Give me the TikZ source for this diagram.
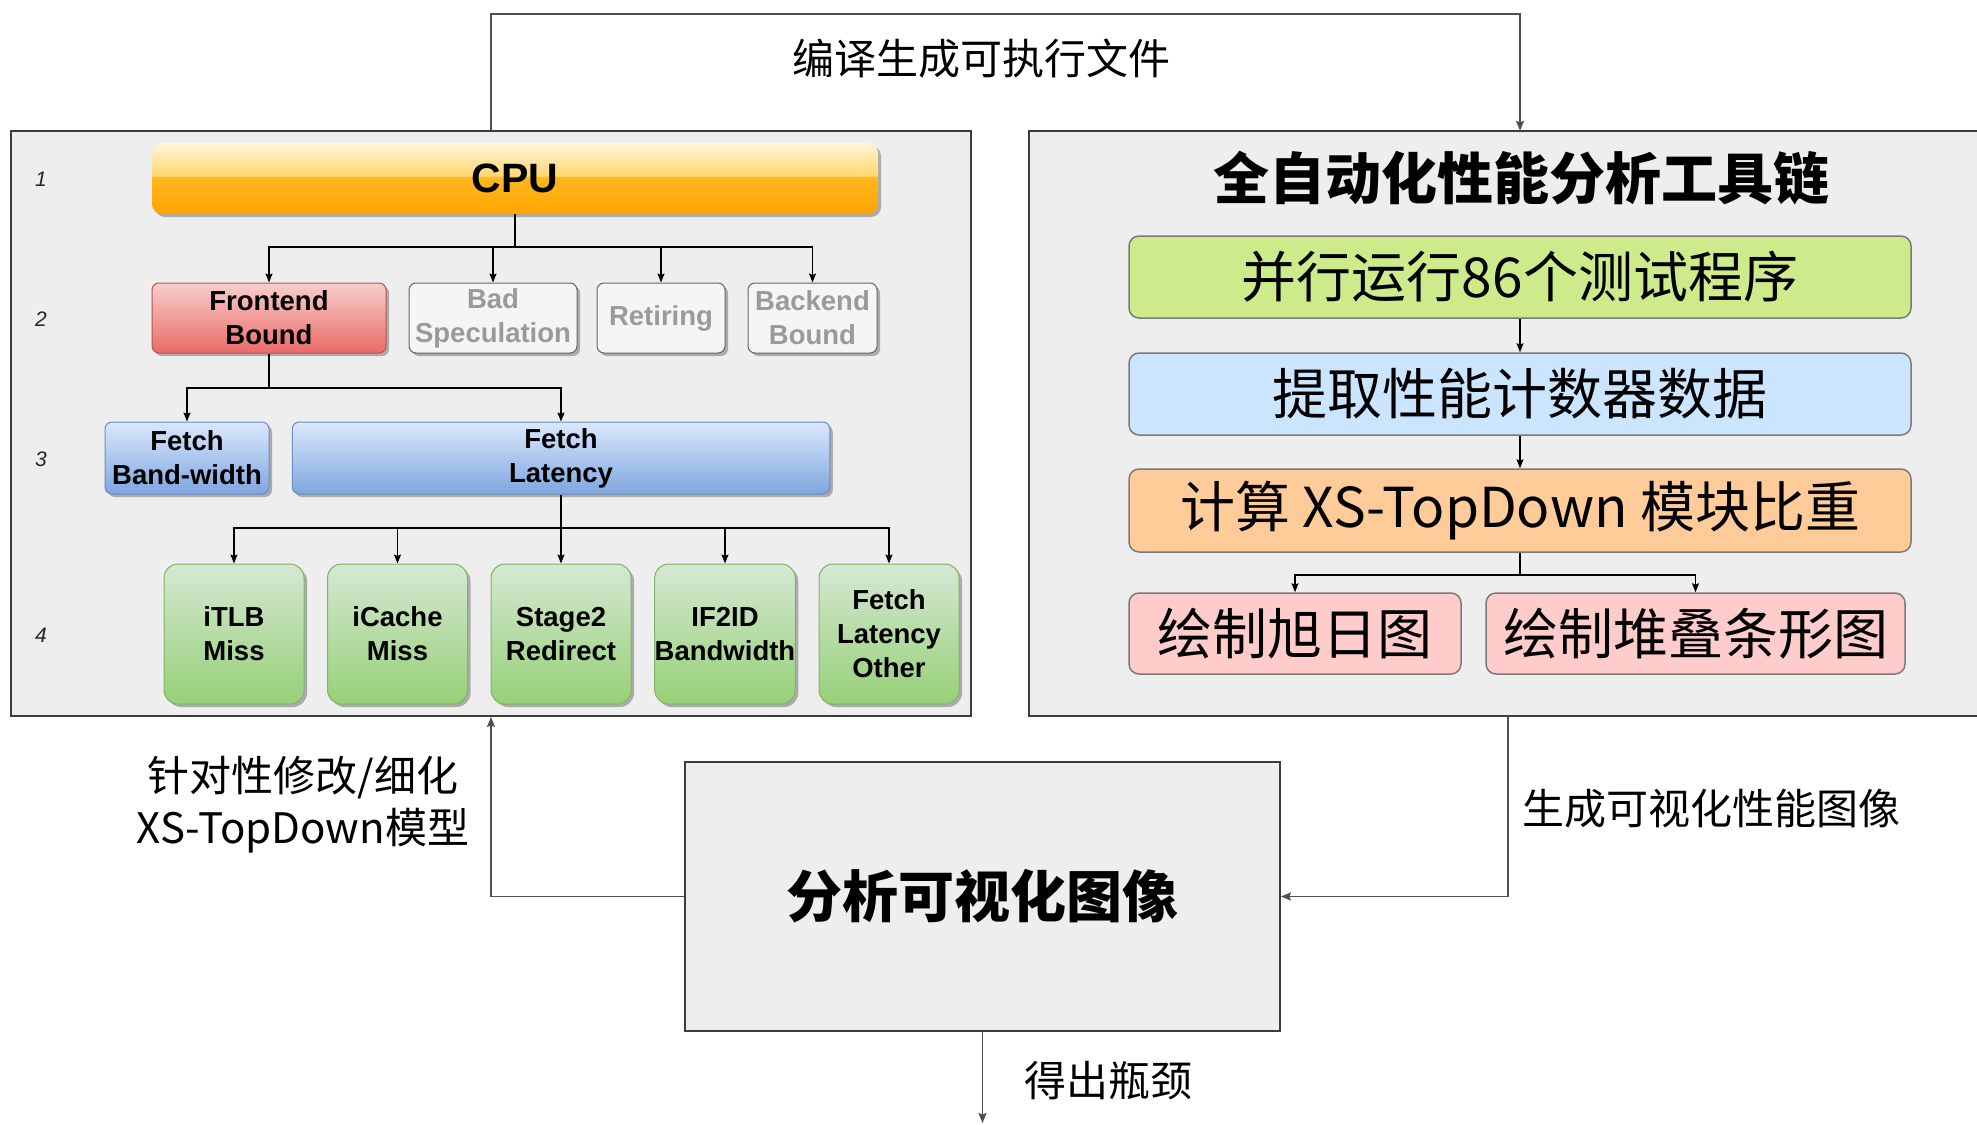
\documentclass[tikz,border=0pt]{standalone}
\usepackage{fontspec}
\setmainfont{Liberation Sans}
\newfontfamily\cjk{Noto Sans CJK SC}
\usetikzlibrary{arrows.meta,shadows,calc}

% colours
\definecolor{panelbg}{HTML}{EEEEEE}
\definecolor{panelline}{HTML}{3C3C3C}
\definecolor{flowline}{HTML}{505050}
\definecolor{redtop}{HTML}{F8CECC}
\definecolor{redbot}{HTML}{EA6B66}
\definecolor{redline}{HTML}{B85450}
\definecolor{bluetop}{HTML}{DAE8FC}
\definecolor{bluebot}{HTML}{7EA6E0}
\definecolor{blueline}{HTML}{6C8EBF}
\definecolor{greentop}{HTML}{D5E8D4}
\definecolor{greenbot}{HTML}{97D077}
\definecolor{greenline}{HTML}{82B366}
\definecolor{greyline}{HTML}{666666}
\definecolor{greytext}{HTML}{9A9A9A}
\definecolor{stepline}{HTML}{7A7A7A}
\definecolor{lime}{HTML}{CDEB8B}
\definecolor{skyblue}{HTML}{CCE5FF}
\definecolor{peach}{HTML}{FFCC99}
\definecolor{pink}{HTML}{FFCCCC}
\definecolor{cpuA}{HTML}{FFA500}
\definecolor{cpuB}{HTML}{FFB820}
\definecolor{cpuC}{HTML}{FFD870}
\definecolor{cpuD}{HTML}{FFF5DC}

% glossy orange fill of the CPU bar (bottom to top)
\pgfdeclareverticalshading{cpuglass}{100bp}{%
  color(0bp)=(cpuA); color(25bp)=(cpuA); color(51bp)=(cpuB);
  color(52bp)=(cpuC); color(75bp)=(cpuD); color(100bp)=(cpuD)}

\newcommand\treefont{\fontsize{27.5}{34}\selectfont\bfseries}
\newcommand\stepfont{\cjk\fontsize{55}{60}\selectfont}
\newcommand\notefont{\cjk\fontsize{42}{52}\selectfont}

\begin{document}
\begin{tikzpicture}[x=1pt, y=-1pt,
  panel/.style={fill=panelbg, draw=panelline, line width=1.8pt, inner sep=0pt},
  tree/.style={rounded corners=7pt, inner sep=0pt, align=center, font=\treefont,
    line width=1pt,
    drop shadow={shadow xshift=3pt, shadow yshift=-3pt, opacity=.28, fill=black}},
  redbox/.style={tree, top color=redtop, bottom color=redbot, draw=redline},
  greybox/.style={tree, fill=panelbg!60!white, draw=greyline, text=greytext},
  bluebox/.style={tree, top color=bluetop, bottom color=bluebot, draw=blueline},
  greenbox/.style={tree, rounded corners=14pt, top color=greentop, bottom color=greenbot,
    draw=greenline, minimum width=140pt, minimum height=140pt},
  stepbox/.style={rounded corners=10pt, draw=stepline, line width=1.5pt, inner sep=0pt,
    font=\stepfont},
  link/.style={line width=1.3pt, black},
  conn/.style={link, -{Stealth[length=9pt, width=7pt, inset=1.5pt]}},
  flow/.style={line width=1.6pt, flowline, -{Stealth[length=10pt, width=8pt, inset=1.5pt]}},
  note/.style={font=\notefont, align=center, inner sep=0pt},
  rownum/.style={font=\itshape\fontsize{21}{21}\selectfont, text=black!85}
]
\useasboundingbox (0,0) rectangle (1977,1124);
\clip (0,0) rectangle (1977,1124);
\fill[white] (0,0) rectangle (1977,1124);

% ---------- left panel: XS-TopDown tree ----------
\node[panel, minimum width=960pt, minimum height=585pt] (lp) at (491,423.5) {};

\node[rownum] (r1) at (41,179) {1};
\node[rownum] (r2) at (41,319) {2};
\node[rownum] (r3) at (41,459) {3};
\node[rownum] (r4) at (41,635) {4};

\node[shading=cpuglass, rounded corners=10pt, inner sep=0pt,
      minimum width=726pt, minimum height=71pt,
      font=\fontsize{41}{41}\selectfont\bfseries,
      drop shadow={shadow xshift=3pt, shadow yshift=-3pt, opacity=.28, fill=black}]
      (cpu) at (515,178.5) {CPU};

\node[redbox,  minimum width=234pt, minimum height=70pt] (fb)  at (269,318)   {Frontend\\Bound};
\node[greybox, minimum width=168pt, minimum height=70pt] (bs)  at (493,318)   {Bad\\Speculation};
\node[greybox, minimum width=128pt, minimum height=70pt] (ret) at (661,318)   {Retiring};
\node[greybox, minimum width=129pt, minimum height=70pt] (be)  at (812.5,318) {Backend\\Bound};

\node[bluebox, minimum width=164pt,   minimum height=72pt] (fbw) at (187,458) {Fetch\\Band-width};
\node[bluebox, minimum width=537.5pt, minimum height=72pt] (fl)  at (561,458) {Fetch\\Latency};

\node[greenbox] (itlb)  at (234,634)   {iTLB\\Miss};
\node[greenbox] (icach) at (397.5,634) {iCache\\Miss};
\node[greenbox] (stg2)  at (561,634)   {Stage2\\Redirect};
\node[greenbox] (ifid)  at (725,634)   {IF2ID\\Bandwidth};
\node[greenbox] (flo)   at (889,634)   {Fetch\\Latency\\Other};

\coordinate (j1) at (cpu.south |- 0,247);
\draw[link] (cpu.south) -- (j1);
\foreach \n in {fb,bs,ret,be} \draw[conn] (j1) -| (\n.north);

\coordinate (j2) at (fb.south |- 0,388);
\draw[link] (fb.south) -- (j2);
\foreach \n in {fbw,fl} \draw[conn] (j2) -| (\n.north);

\coordinate (j3) at (fl.south |- 0,528);
\draw[link] (fl.south) -- (j3);
\foreach \n in {itlb,icach,stg2,ifid,flo} \draw[conn] (j3) -| (\n.north);

% ---------- right panel: automated tool chain ----------
\node[fill=panelbg, inner sep=0pt, minimum width=982pt, minimum height=585pt] (rp) at (1520,423.5) {};
\draw[panelline, line width=1.8pt] (rp.north east) -- (rp.north west) -- (rp.south west) -- (rp.south east);

\node[font=\cjk\bfseries\fontsize{56}{60}\selectfont, inner sep=0pt] (title) at (1521,178) {全自动化性能分析工具链};

\node[stepbox, fill=lime,    minimum width=782pt, minimum height=82pt] (b1) at (1520,277)   {并行运行86个测试程序};
\node[stepbox, fill=skyblue, minimum width=782pt, minimum height=82pt] (b2) at (1520,394)   {提取性能计数器数据};
\node[stepbox, fill=peach,   minimum width=782pt, minimum height=83pt] (b3) at (1520,510.5) {计算 XS-TopDown 模块比重};
\node[stepbox, fill=pink,    minimum width=332pt, minimum height=81pt] (b4a) at (1295,633.5)  {绘制旭日图};
\node[stepbox, fill=pink,    minimum width=419pt, minimum height=81pt] (b4b) at (1695.5,633.5){绘制堆叠条形图};

\draw[conn] (b1.south) -- (b2.north);
\draw[conn] (b2.south) -- (b3.north);
\coordinate (j4) at (b3.south |- 0,575);
\draw[link] (b3.south) -- (j4);
\foreach \n in {b4a,b4b} \draw[conn] (j4) -| (\n.north);

% ---------- analysis box and the loop between the panels ----------
\node[panel, minimum width=595pt, minimum height=269pt,
      font=\cjk\bfseries\fontsize{56}{60}\selectfont] (ana) at (982.5,896.5) {分析可视化图像};

\coordinate (top) at (lp.north |- 0,14);
\draw[flow] (lp.north) -- (top) -| (rp.north);
\node[note] (n1) at (981,59) {编译生成可执行文件};

\coordinate (rpout) at (1508,0 |- rp.south);
\draw[flow] (rpout) |- (ana.east);
\node[note] (n2) at (1711,809) {生成可视化性能图像};

\draw[flow] (ana.west) -| (lp.south);
\node[note] (n3) at (303,805) {针对性修改/细化\\XS-TopDown模型};

\coordinate (out) at (ana.south |- 0,1123);
\draw[flow] (ana.south) -- (out);
\node[note] (n4) at (1108,1081) {得出瓶颈};
\end{tikzpicture}
\end{document}
